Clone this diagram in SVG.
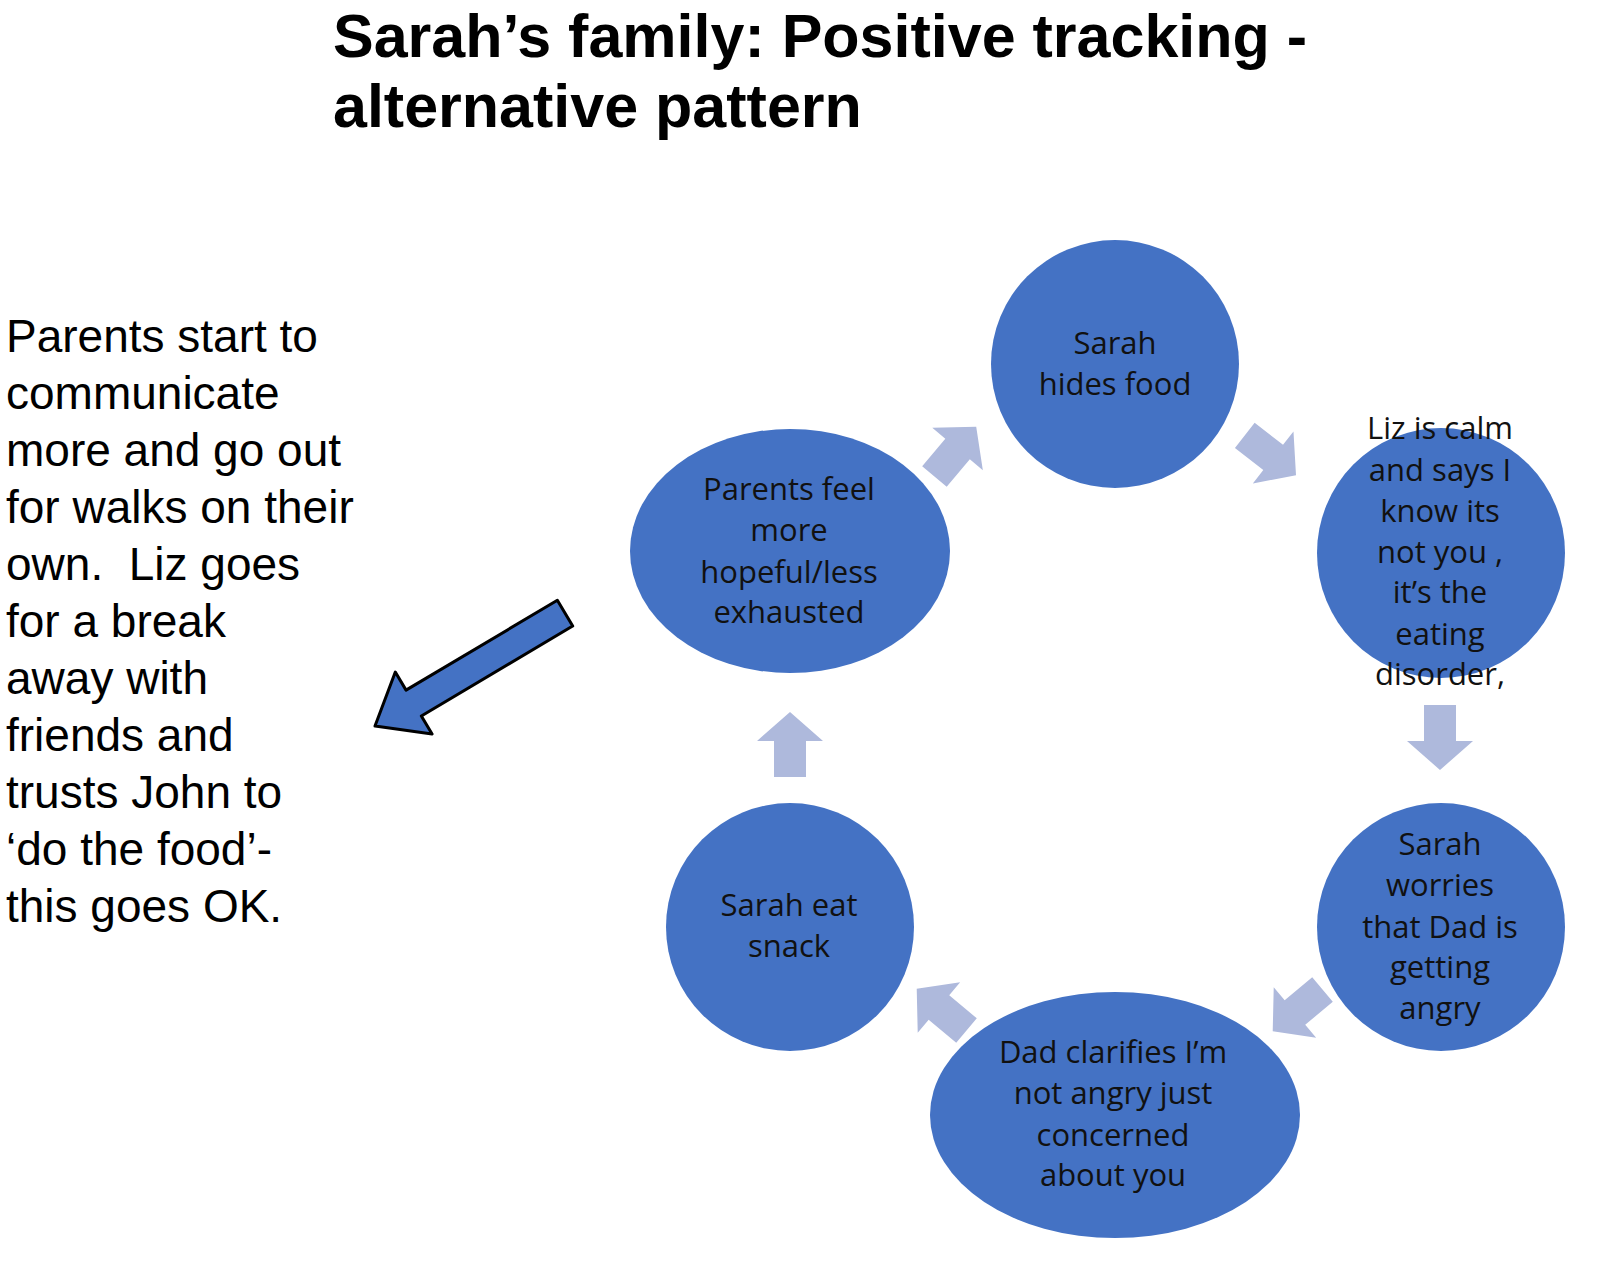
<svg xmlns="http://www.w3.org/2000/svg" width="1600" height="1269" viewBox="0 0 1600 1269">
<style>
.n{fill:#4472C4}
.t{font-family:"Open Sans","Liberation Sans",sans-serif;font-size:31px;fill:#111;text-anchor:middle}
.la{fill:#AEB9DC}
.side{font-family:"Liberation Sans",Arial,sans-serif;font-size:46px;fill:#000}
.title{font-family:"Liberation Sans",Arial,sans-serif;font-size:61px;font-weight:bold;fill:#000}
</style>
<defs>
<path id="blk" d="M-32,-16 L4,-16 L4,-33 L33,0 L4,33 L4,16 L-32,16 Z"/>
</defs>
<rect width="1600" height="1269" fill="#fff"/>
<text class="title" x="333" y="57">Sarah’s family: Positive tracking -</text>
<text class="title" x="333" y="127">alternative pattern</text>
<text class="side" x="6"><tspan x="6" y="352">Parents start to</tspan><tspan x="6" y="409">communicate</tspan><tspan x="6" y="466">more and go out</tspan><tspan x="6" y="523">for walks on their</tspan><tspan x="6" y="580">own.&#160; Liz goes</tspan><tspan x="6" y="637">for a break</tspan><tspan x="6" y="694">away with</tspan><tspan x="6" y="751">friends and</tspan><tspan x="6" y="808">trusts John to</tspan><tspan x="6" y="865">‘do the food’-</tspan><tspan x="6" y="922">this goes OK.</tspan></text>
<g id="connectors">
<use href="#blk" class="la" transform="translate(955,452) rotate(-50)"/>
<use href="#blk" class="la" transform="translate(1270,455) rotate(38)"/>
<use href="#blk" class="la" transform="translate(1440,737) rotate(90)"/>
<use href="#blk" class="la" transform="translate(1298,1010) rotate(140)"/>
<use href="#blk" class="la" transform="translate(942,1010) rotate(-140)"/>
<use href="#blk" class="la" transform="translate(790,745) rotate(-90)"/>
<path d="M-221,-15 L-45,-15 L-45,-36 L0,0 L-45,36 L-45,15 L-221,15 Z" fill="#4472C4" stroke="#000" stroke-width="3" stroke-linejoin="round" transform="translate(375,726) rotate(149.3)"/>
</g>
<g id="n1"><circle class="n" cx="1115" cy="364" r="124"/><text class="t"><tspan x="1115" y="354">Sarah</tspan><tspan x="1115" y="395">hides food</tspan></text></g>
<g id="n2"><ellipse class="n" cx="1441" cy="553" rx="124" ry="125"/><text class="t"><tspan x="1440" y="439">Liz is calm</tspan><tspan x="1440" y="481">and says I</tspan><tspan x="1440" y="522">know its</tspan><tspan x="1440" y="563">not you ,</tspan><tspan x="1440" y="603">it’s the</tspan><tspan x="1440" y="645">eating</tspan><tspan x="1440" y="685">disorder,</tspan></text></g>
<g id="n3"><circle class="n" cx="1441" cy="927" r="124"/><text class="t"><tspan x="1440" y="855">Sarah</tspan><tspan x="1440" y="896">worries</tspan><tspan x="1440" y="938">that Dad is</tspan><tspan x="1440" y="978">getting</tspan><tspan x="1440" y="1019">angry</tspan></text></g>
<g id="n4"><ellipse class="n" cx="1115" cy="1115" rx="185" ry="123"/><text class="t"><tspan x="1113" y="1063">Dad clarifies I’m</tspan><tspan x="1113" y="1104">not angry just</tspan><tspan x="1113" y="1146">concerned</tspan><tspan x="1113" y="1186">about you</tspan></text></g>
<g id="n5"><circle class="n" cx="790" cy="927" r="124"/><text class="t"><tspan x="789" y="916">Sarah eat</tspan><tspan x="789" y="957">snack</tspan></text></g>
<g id="n6"><ellipse class="n" cx="790" cy="551" rx="160" ry="122"/><text class="t"><tspan x="789" y="500">Parents feel</tspan><tspan x="789" y="541">more</tspan><tspan x="789" y="583">hopeful/less</tspan><tspan x="789" y="623">exhausted</tspan></text></g>
</svg>
